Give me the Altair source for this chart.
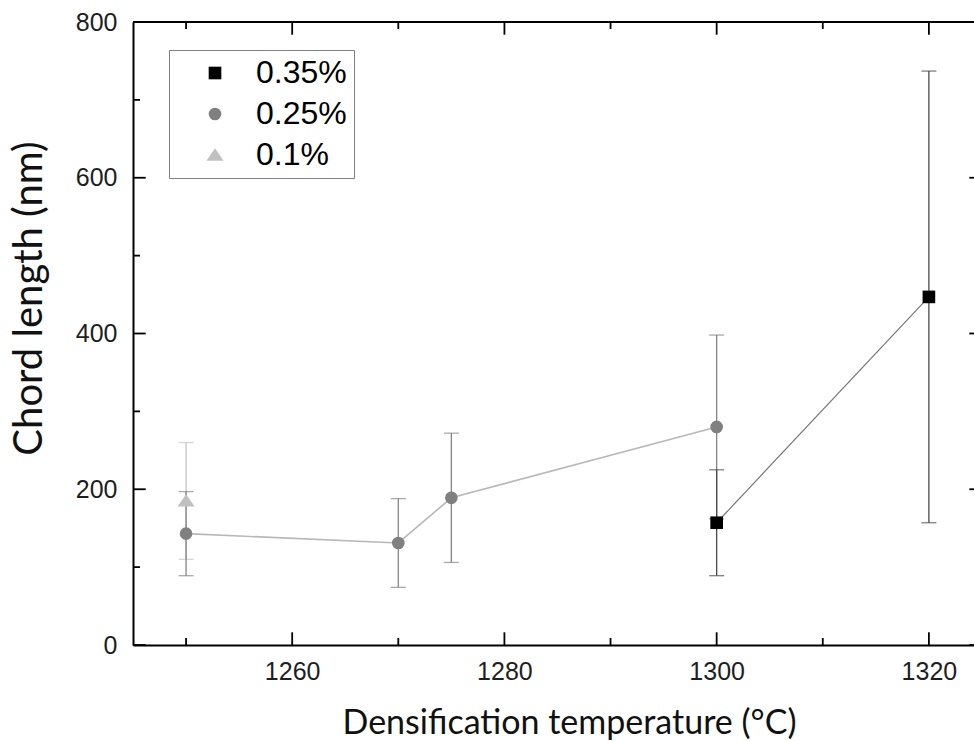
import altair as alt
import pandas as pd

# ---- data ----
series_names = ["0.35%", "0.25%", "0.1%"]

temp_035 = [1300, 1320]
len_035 = [157, 447]
err_035 = [68, 290]

temp_025 = [1250, 1270, 1275, 1300]
len_025 = [143, 131, 189, 280]
err_025 = [54, 57, 83, 118]

temp_01 = [1250]
len_01 = [185]
err_01 = [75]

x_major = [1260, 1280, 1300, 1320]
x_minor = [1250, 1270, 1290, 1310]
y_major = [0, 200, 400, 600, 800]
y_minor = [100, 300, 500, 700]

# ---- styles ----
sym_colors = ["#000000", "#808080", "#c0c0c0"]
sym_shapes = ["square", "circle", "M-1.35,0.9L0,-1.05L1.35,0.9Z"]
err_colors = {"0.35%": "#4a4a4a", "0.25%": "#858585", "0.1%": "#c4c4c4"}
line_colors = {"0.35%": "#767676", "0.25%": "#b8b8b8"}

W, H = 841, 623
MAJ, MIN = 12.7, 7

def make_df(name, t, v, e):
    return pd.DataFrame({
        "T": t, "L": v,
        "lo": [a - b for a, b in zip(v, e)],
        "hi": [a + b for a, b in zip(v, e)],
        "series": [name] * len(t),
    })

df35 = make_df("0.35%", temp_035, len_035, err_035)
df25 = make_df("0.25%", temp_025, len_025, err_025)
df01 = make_df("0.1%", temp_01, len_01, err_01)
all_df = pd.concat([df01, df25, df35], ignore_index=True)

xscale = alt.Scale(domain=[1245, 1324.25], nice=False, zero=False)
yscale = alt.Scale(domain=[0, 800], nice=False)

xaxis = alt.Axis(values=x_major, format="d", title="Densification temperature (°C)",
                 labelPadding=14, titleX=436, titleY=88, titleBaseline="alphabetic",
                 titleFontSize=34)
yaxis = alt.Axis(values=y_major, format="d", title="Chord length (nm)",
                 labelPadding=16, titleX=-104, titleY=276, titleBaseline="middle",
                 titleFontSize=40)

X = alt.X("T:Q", scale=xscale, axis=xaxis)
Y = alt.Y("L:Q", scale=yscale, axis=yaxis)

layers = []
for name, df in [("0.1%", df01), ("0.25%", df25), ("0.35%", df35)]:
    c = err_colors[name]
    layers.append(alt.Chart(df).mark_rule(color=c, strokeWidth=1.3).encode(
        x=X, y=alt.Y("lo:Q", scale=yscale, axis=yaxis), y2="hi:Q"))
    layers.append(alt.Chart(df).mark_tick(color=c, orient="horizontal", size=15, thickness=1.3).encode(
        x=X, y=alt.Y("lo:Q", scale=yscale, axis=yaxis)))
    layers.append(alt.Chart(df).mark_tick(color=c, orient="horizontal", size=15, thickness=1.3).encode(
        x=X, y=alt.Y("hi:Q", scale=yscale, axis=yaxis)))

for name, df, w in [("0.25%", df25, 1.6), ("0.35%", df35, 1.2)]:
    layers.append(alt.Chart(df).mark_line(color=line_colors[name], strokeWidth=w).encode(
        x=X, y=Y, order="T:Q"))

leg = alt.Legend(title=None, orient="none", legendX=36, legendY=28, symbolSize=160)
points = alt.Chart(all_df).mark_point(filled=True, opacity=1, size=160).encode(
    x=X, y=Y,
    color=alt.Color("series:N", scale=alt.Scale(domain=series_names, range=sym_colors), legend=leg),
    shape=alt.Shape("series:N", scale=alt.Scale(domain=series_names, range=sym_shapes), legend=leg),
)
layers.append(points)

# frame top line (right frame lies outside the picture in the reference)
frame_df = pd.DataFrame({"a": [0]})
layers.append(alt.Chart(frame_df).mark_rule(color="black", strokeWidth=2).encode(
    x=alt.value(0), x2=alt.value(W), y=alt.value(0)))

# inward ticks on all four sides
dxM = pd.DataFrame({"v": x_major})
dxm = pd.DataFrame({"v": x_minor})
dyM = pd.DataFrame({"v": y_major})
dym = pd.DataFrame({"v": y_minor})
XV = alt.X("v:Q", scale=xscale, axis=xaxis)
YV = alt.Y("v:Q", scale=yscale, axis=yaxis)
for d, ln in [(dxM, MAJ), (dxm, MIN)]:
    layers.append(alt.Chart(d).mark_rule(color="black", strokeWidth=1.8).encode(
        x=XV, y=alt.value(H), y2=alt.value(H - ln)))
    layers.append(alt.Chart(d).mark_rule(color="black", strokeWidth=1.8).encode(
        x=XV, y=alt.value(0), y2=alt.value(ln)))
for d, ln in [(dyM, MAJ), (dym, MIN)]:
    layers.append(alt.Chart(d).mark_rule(color="black", strokeWidth=1.8).encode(
        y=YV, x=alt.value(0), x2=alt.value(ln)))
# right-side major ticks: only their outer tips fall inside the picture
layers.append(alt.Chart(dyM).mark_rule(color="black", strokeWidth=1.8).encode(
    y=YV, x=alt.value(W), x2=alt.value(W - 4.7)))

chart = alt.layer(*layers).properties(
    width=W, height=H,
    autosize=alt.AutoSizeParams(type="none"),
    padding={"left": 133, "top": 22, "right": 0, "bottom": 96},
).configure_view(
    strokeWidth=0
).configure_axis(
    domain=True, domainColor="black", domainWidth=2,
    ticks=False, tickSize=0, grid=False,
    labelFont="Liberation Sans", labelFontSize=25, labelColor="#1e1e1e",
    titleFont="Lato", titleFontWeight="normal", titleColor="#111111",
).configure_legend(
    padding=7, strokeColor="#808080", fillColor="white",
    symbolOffset=23, labelOffset=25, rowPadding=9,
    labelFont="Liberation Sans", labelFontSize=32, labelColor="#000000", labelLimit=300,
    symbolStrokeWidth=0,
)

chart.save("out.html", embed_options={"renderer": "svg", "actions": False})
